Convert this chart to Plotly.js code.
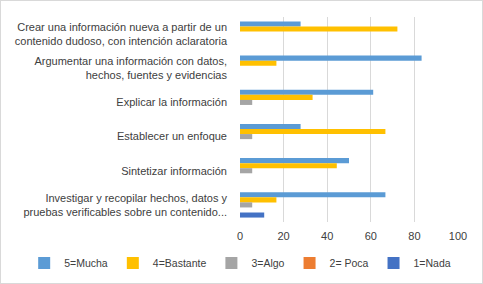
<!DOCTYPE html>
<html>
<head>
<meta charset="utf-8">
<script src="https://cdn.plot.ly/plotly-3.0.1.min.js"></script>
<style>
  html, body { margin: 0; padding: 0; background: #fff; }
  #wrap { position: relative; width: 483px; height: 284px; }
  #border { position: absolute; left: 0; top: 0; width: 481px; height: 282px; border: 1px solid #d9d9d9; pointer-events: none; }
</style>
</head>
<body>
<div id="wrap"><div id="chart"></div><div id="border"></div></div>
<script>
const categories = [
  "Crear una información nueva a partir de un<br>contenido dudoso, con intención aclaratoria",
  "Argumentar una información con datos,<br>hechos, fuentes y evidencias",
  "Explicar la información",
  "Establecer un enfoque",
  "Sintetizar información",
  "Investigar y recopilar hechos, datos y<br>pruebas verificables sobre un contenido..."
];
const seriesNames = ["5=Mucha", "4=Bastante", "3=Algo", "2= Poca", "1=Nada"];
const mucha    = [27.8, 83.3, 61.1, 27.8, 50.0, 66.7];
const bastante = [72.2, 16.7, 33.3, 66.7, 44.4, 16.7];
const algo     = [0,    0,    5.6,  5.6,  5.6,  5.6];
const poca     = [0,    0,    0,    0,    0,    0];
const nada     = [0,    0,    0,    0,    0,    11.1];
const xTicks   = [0, 20, 40, 60, 80, 100];

const colors = ["#5B9BD5", "#FFC000", "#A5A5A5", "#ED7D31", "#4472C4"];
const values = [mucha, bastante, algo, poca, nada];

const traces = values.map((v, i) => ({
  type: "bar",
  orientation: "h",
  name: seriesNames[i],
  x: v,
  y: categories,
  marker: { color: colors[i] },
  hoverinfo: "x+name"
}));

const layout = {
  width: 483,
  height: 284,
  margin: { l: 240, r: 25, t: 17, b: 62, autoexpand: false },
  paper_bgcolor: "#ffffff",
  plot_bgcolor: "#ffffff",
  font: { family: "'Liberation Sans', Arial, sans-serif", size: 11, color: "#404040" },
  barmode: "group",
  bargap: 0.26,
  bargroupgap: 0,
  xaxis: {
    range: [0, 100],
    tickvals: xTicks,
    ticktext: xTicks.map(String),
    showgrid: true,
    gridcolor: "#d9d9d9",
    gridwidth: 1,
    zeroline: false,
    showline: false,
    ticks: "",
    ticklabelstandoff: 6,
    tickfont: { size: 11, color: "#404040" }
  },
  yaxis: {
    autorange: "reversed",
    type: "category",
    showgrid: false,
    zeroline: false,
    showline: false,
    ticks: "",
    ticklabelstandoff: 12,
    tickfont: { size: 11, color: "#404040" }
  },
  showlegend: true,
  legend: {
    orientation: "h",
    x: -0.99,
    xanchor: "left",
    xref: "paper",
    y: -0.2,
    yref: "paper",
    yanchor: "middle",
    font: { size: 10.5, color: "#404040" },
    itemwidth: 30,
    traceorder: "normal",
    bgcolor: "rgba(0,0,0,0)"
  }
};

Plotly.newPlot("chart", traces, layout, { displayModeBar: false, staticPlot: true });
</script>
</body>
</html>
